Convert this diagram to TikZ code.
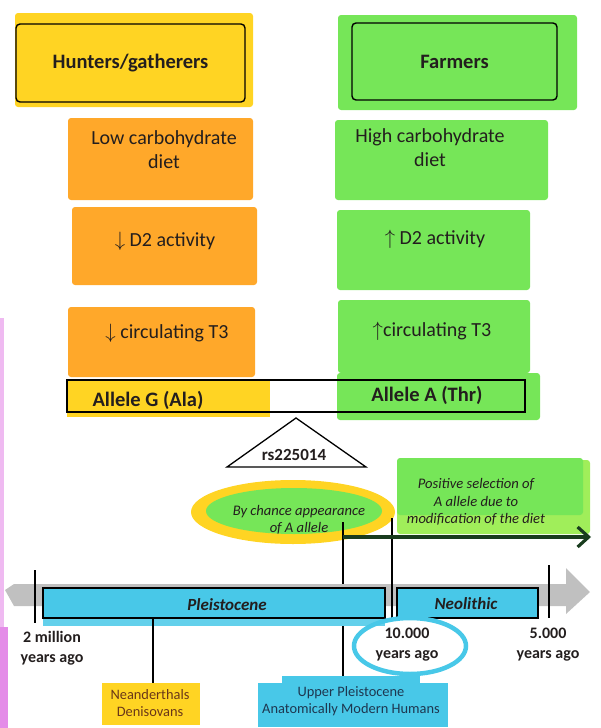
\documentclass[tikz,border=0pt]{standalone}
\usepackage{fontspec}
\setmainfont{Carlito}
\usetikzlibrary{arrows.meta}
\definecolor{mkY}{RGB}{255,212,35}
\definecolor{mkO}{RGB}{255,168,42}
\definecolor{mkG}{RGB}{118,230,88}
\definecolor{mkGl}{RGB}{160,238,90}
\definecolor{mkC}{RGB}{72,200,232}
\definecolor{mkGray}{RGB}{192,192,192}
\definecolor{mkPink}{RGB}{228,140,232}
\definecolor{txt}{RGB}{35,30,30}
\definecolor{brn}{RGB}{105,55,25}
\definecolor{arrG}{RGB}{25,60,30}
\definecolor{ublue}{RGB}{30,55,80}
\begin{document}
\begin{tikzpicture}[x=1pt,y=-1pt,
  lbl/.style={inner sep=0pt, align=center, text=txt},
  big/.style={font=\fontsize{20.5}{23}\selectfont\bfseries},
  mid/.style={font=\fontsize{20}{24}\selectfont},
  alle/.style={font=\fontsize{20.5}{23}\selectfont\bfseries},
  small/.style={font=\fontsize{14.6}{17.5}\selectfont\itshape},
  era/.style={font=\fontsize{17}{20}\selectfont\bfseries\itshape},
  yrs/.style={font=\fontsize{16}{20}\selectfont\bfseries},
  tiny/.style={font=\fontsize{14.4}{17}\selectfont},
  outl/.style={draw=black, line width=1.4pt},
  tickline/.style={draw=black, line width=2.2pt},
  mk/.style={rounded corners=3pt},
]
\useasboundingbox (0,0) rectangle (600,728);
% left margin marker
\fill[mkPink!60] (0,318) rectangle (4,627);
\fill[mkPink] (0,627) rectangle (8,728);
% top row
\fill[mkY,mk] (15,13) rectangle (253,107);
\node[lbl, big, outl, rounded corners=4pt, minimum width=229, minimum height=78] (hunt) at (130.5,63) {Hunters/gatherers};
\fill[mkG,mk] (338,15) rectangle (577,110);
\node[lbl, big, outl, rounded corners=4pt, minimum width=205, minimum height=77] (farm) at (454.5,61.5) {Farmers};
% diet
\fill[mkO,mk] (68,118) rectangle (253,200);
\node[lbl, mid] (lowc) at (164,150) {Low carbohydrate\\diet};
\fill[mkG,mk] (335,120) rectangle (548,200);
\node[lbl, mid] (highc) at (430,148) {High carbohydrate\\diet};
% D2
\fill[mkO,mk] (72,207) rectangle (257,285);
\node[lbl, mid] (d2lo) at (165,241) {$\downarrow$ D2 activity};
\fill[mkG,mk] (337,210) rectangle (530,290);
\node[lbl, mid] (d2hi) at (435,239) {$\uparrow$ D2 activity};
% T3
\fill[mkO,mk] (68,307) rectangle (255,377);
\node[lbl, mid] (t3lo) at (167,333) {$\downarrow$ circulating T3};
\fill[mkG,mk] (338,300) rectangle (530,373);
\node[lbl, mid] (t3hi) at (432,331) {$\uparrow$circulating T3};
% allele bar
\fill[mkY] (67,380) rectangle (270,417);
\fill[mkG,mk] (337,373) rectangle (540,420);
\draw[outl] (67,380) rectangle (525,412);
\node[lbl, alle] (alG) at (148,400) {Allele G (Ala)};
\node[lbl, alle] (alA) at (427,395) {Allele A (Thr)};
% SNP triangle
\coordinate (tA) at (296,418);
\coordinate (tL) at (227,467);
\coordinate (tR) at (366,467);
\draw[black, line width=1.3pt, line join=miter] (tL) -- (tA) -- (tR) -- cycle;
\node[lbl, font=\fontsize{17}{20}\selectfont\bfseries] (snp) at (294,455) {rs225014};
% by chance ellipse
\fill[mkY] (293,512) ellipse [x radius=102, y radius=32];
\fill[mkG] (294,511) ellipse [x radius=88, y radius=23];
\node[lbl, small] (chance) at (299,520) {By chance appearance\\of A allele};
% positive selection
\fill[mkGl,mk] (397,460) rectangle (590,534);
\fill[mkG,mk] (397,458) rectangle (583,515);
\node[lbl, small] (possel) at (476,502) {Positive selection of\\A allele due to\\modification of the diet};
% vertical markers and time arrow
\coordinate (v1t) at (343,522);
\coordinate (v1b) at (343,683);
\coordinate (v2t) at (392,518);
\coordinate (v2b) at (392,618);
\coordinate (arrE) at (591,537);
\draw[tickline, line width=2pt] (v1t) -- (v1b);
% grey timeline arrow
\fill[mkGray] (5,590) -- (14,584) -- (566,584) -- (566,568) -- (590,592) -- (566,614) -- (566,606) -- (14,606) -- cycle;
% eras
\fill[mkC!85] (43,600) rectangle (385,626);
\node[lbl, era, fill=mkC, outl, minimum width=342, minimum height=30] (pleis) at (214,603) {};
\node[lbl, era] (pleisT) at (227,605) {Pleistocene};
\node[lbl, era, fill=mkC, outl, minimum width=141, minimum height=30] (neo) at (467.5,603) {};
\node[lbl, era] (neoT) at (466,604) {Neolithic};
\draw[tickline, line width=2pt] (v2t) -- (v2b);
\draw[draw=arrG, line width=3.2pt, -{Straight Barb[length=11pt,width=20pt,line width=3.2pt]}] (v1t |- arrE) -- (arrE);
% ticks
\coordinate (k1t) at (35,570); \coordinate (k1b) at (35,623);
\coordinate (k2t) at (549,565); \coordinate (k2b) at (549,618);
\coordinate (k3t) at (153,618); \coordinate (k3b) at (153,683);
\draw[tickline] (k1t) -- (k1b);
\draw[tickline] (k2t) -- (k2b);
\draw[tickline, line width=2pt] (k3t) -- (k3b);
% dates
\node[lbl, yrs] (d2m) at (52,648) {2 million\\years ago};
\draw[mkC, line width=4.5pt] (410,646) ellipse [x radius=56, y radius=28];
\node[lbl, yrs] (d10k) at (407,645) {10.000\\years ago};
\node[lbl, yrs] (d5k) at (548,645) {5.000\\years ago};
% hominin labels
\fill[mkY] (102,683) rectangle (200,725);
\node[lbl, tiny, text=brn] (neand) at (150,703) {Neanderthals\\Denisovans};
\fill[mkC] (258,683) rectangle (448,727);
\fill[mkC] (282,676) rectangle (420,690);
\node[lbl, tiny, text=ublue] (amh) at (351,701) {Upper Pleistocene\\Anatomically Modern Humans};
\end{tikzpicture}
\end{document}
